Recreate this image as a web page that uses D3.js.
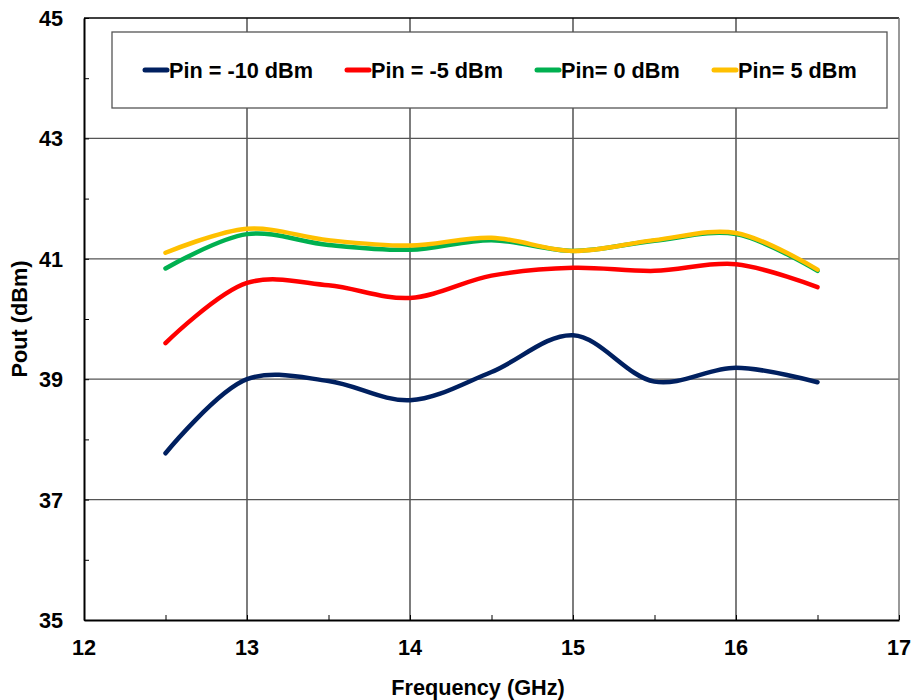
<!DOCTYPE html>
<html>
<head>
<meta charset="utf-8">
<script src="https://cdn.jsdelivr.net/npm/d3@7"></script>
<style>
  body { margin: 0; background: #fff; }
  text { font-family: "Liberation Sans", Arial, sans-serif; font-weight: bold; fill: #000; }
</style>
</head>
<body>
<script>
// frequencies (GHz)
var freqs = [12.5, 13, 13.5, 14, 14.5, 15, 15.5, 16, 16.5];

// output power (dBm) for each input level
var pinM10 = [37.77, 39.0, 38.97, 38.65, 39.12, 39.73, 38.96, 39.19, 38.95];
var pinM5  = [39.60, 40.60, 40.56, 40.35, 40.72, 40.85, 40.80, 40.91, 40.53];
var pin0   = [40.84, 41.41, 41.23, 41.15, 41.31, 41.13, 41.30, 41.41, 40.80];
var pin5   = [41.10, 41.50, 41.31, 41.22, 41.35, 41.13, 41.31, 41.43, 40.82];

var seriesNames = ["Pin = -10 dBm", "Pin = -5 dBm", "Pin= 0 dBm", "Pin= 5 dBm"];
var seriesColors = ["#002060", "#ff0000", "#00b050", "#ffc000"];

var xTicks = [12, 13, 14, 15, 16, 17];
var yTicks = [35, 37, 39, 41, 43, 45];

var W = 914, H = 700;
var pLeft = 84, pRight = 899, pTop = 18, pBottom = 620;
var fs = "21.7px";

var svg = d3.select("body").append("svg")
    .attr("width", W)
    .attr("height", H);

var x = d3.scaleLinear().domain([12, 17]).range([pLeft, pRight]);
var y = d3.scaleLinear().domain([35, 45]).range([pBottom, pTop]);

// grid
svg.append("g").selectAll("line")
    .data(xTicks.slice(1, -1))
    .enter().append("line")
    .attr("x1", function(d){ return x(d); })
    .attr("x2", function(d){ return x(d); })
    .attr("y1", pTop).attr("y2", pBottom)
    .attr("stroke", "#111").attr("stroke-width", 1.1);

svg.append("g").selectAll("line")
    .data(yTicks.slice(1, -1))
    .enter().append("line")
    .attr("y1", function(d){ return y(d); })
    .attr("y2", function(d){ return y(d); })
    .attr("x1", pLeft).attr("x2", pRight)
    .attr("stroke", "#555").attr("stroke-width", 1.3);

// frame top / right
svg.append("line").attr("x1", pLeft).attr("x2", pRight).attr("y1", pTop).attr("y2", pTop)
    .attr("stroke", "#000").attr("stroke-width", 1.3);
svg.append("line").attr("x1", pRight).attr("x2", pRight).attr("y1", pTop).attr("y2", pBottom)
    .attr("stroke", "#777").attr("stroke-width", 1.5);

// axes
var xAxis = d3.axisBottom(x).tickValues(d3.range(12, 17.01, 0.5)).tickSize(-5).tickSizeOuter(0).tickFormat("");
var yAxis = d3.axisLeft(y).tickValues(d3.range(35, 45.01, 1)).tickSize(-5).tickSizeOuter(0).tickFormat("");

var gx = svg.append("g").attr("transform", "translate(0," + pBottom + ")").call(xAxis);
var gy = svg.append("g").attr("transform", "translate(" + pLeft + ",0)").call(yAxis);
gx.select(".domain").attr("stroke", "#000").attr("stroke-width", 2);
gy.select(".domain").attr("stroke", "#000").attr("stroke-width", 2);
gx.selectAll(".tick line").attr("stroke", "#000");
gy.selectAll(".tick line").attr("stroke", "#000");

// tick labels
svg.append("g").selectAll("text")
    .data(xTicks)
    .enter().append("text")
    .attr("x", function(d){ return x(d); })
    .attr("y", 655)
    .attr("text-anchor", "middle")
    .style("font-size", fs)
    .text(function(d){ return d; });

svg.append("g").selectAll("text")
    .data(yTicks)
    .enter().append("text")
    .attr("x", 63)
    .attr("y", function(d){ return y(d) + 8; })
    .attr("text-anchor", "end")
    .style("font-size", fs)
    .text(function(d){ return d; });

// axis titles
svg.append("text")
    .attr("x", 478).attr("y", 695)
    .attr("text-anchor", "middle")
    .style("font-size", fs)
    .text("Frequency (GHz)");

svg.append("text")
    .attr("transform", "translate(27," + ((pTop + pBottom) / 2) + ") rotate(-90)")
    .attr("text-anchor", "middle")
    .style("font-size", fs)
    .text("Pout (dBm)");

// curves
var allSeries = [pinM10, pinM5, pin0, pin5];
var line = d3.line()
    .x(function(d, i){ return x(freqs[i]); })
    .y(function(d){ return y(d); })
    .curve(d3.curveCatmullRom.alpha(0.5));

svg.append("g").selectAll("path")
    .data(allSeries)
    .enter().append("path")
    .attr("d", line)
    .attr("fill", "none")
    .attr("stroke", function(d, i){ return seriesColors[i]; })
    .attr("stroke-width", 4.5)
    .attr("stroke-linecap", "round");

// legend
svg.append("rect")
    .attr("x", 112).attr("y", 32)
    .attr("width", 775).attr("height", 76)
    .attr("fill", "#fff")
    .attr("stroke", "#555").attr("stroke-width", 1.3);

var legX = [145, 347, 537, 714];
var leg = svg.append("g").selectAll("g")
    .data(seriesNames)
    .enter().append("g")
    .attr("transform", function(d, i){ return "translate(" + legX[i] + ",70)"; });

leg.append("line")
    .attr("x1", 0).attr("x2", 22)
    .attr("y1", 0).attr("y2", 0)
    .attr("stroke", function(d, i){ return seriesColors[i]; })
    .attr("stroke-width", 5)
    .attr("stroke-linecap", "round");

leg.append("text")
    .attr("x", 24).attr("y", 8)
    .style("font-size", fs)
    .text(function(d){ return d; });
</script>
</body>
</html>
